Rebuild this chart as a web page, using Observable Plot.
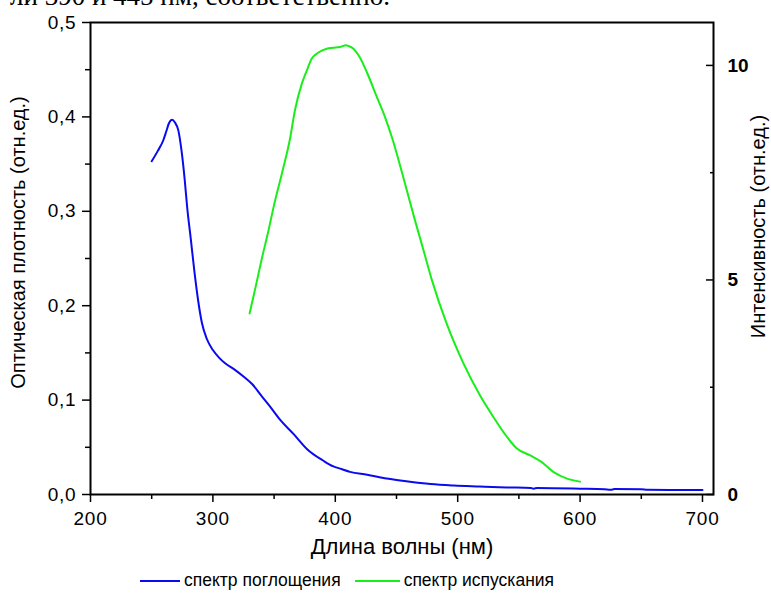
<!DOCTYPE html>
<html>
<head>
<meta charset="utf-8">
<script src="https://cdn.jsdelivr.net/npm/d3@7"></script>
<script src="https://cdn.jsdelivr.net/npm/@observablehq/plot@0.6"></script>
<style>
  html, body { margin: 0; padding: 0; background: #fff; }
  body { width: 771px; height: 595px; overflow: hidden; position: relative; font-family: "Liberation Sans", Arial, sans-serif; }
  #toptext { position: absolute; left: 10px; top: -17px; font-size: 27px; line-height: 27px; font-family: "Liberation Serif", "Times New Roman", serif; color: #000; white-space: nowrap; }
  #c1, #c2 { position: absolute; left: 0; top: 0; }
  #legend { position: absolute; left: 140px; top: 570px; display: flex; align-items: center; font-size: 17.5px; color: #000; }
  .sw { display: inline-block; height: 2px; margin-right: 4px; }
  .ticklab text { letter-spacing: 0.8px; }
</style>
</head>
<body>
<div id="toptext">ли 390 и 445 нм, соответственно.</div>
<div id="c1"></div>
<div id="c2"></div>
<div id="legend"></div>
<script>
// Absorption spectrum (left axis, optical density)
const absWl = [250, 255, 259.4, 262, 264, 266.7, 269, 271.7, 274.4, 277, 279, 282, 285, 288, 291, 295, 300, 305, 310, 318, 325, 332, 340, 348, 355, 366, 377, 390, 398, 405, 412, 426, 442, 458, 478, 497, 518, 540, 560, 562, 565, 600, 620, 625, 628, 650, 655, 700];
const absVal = [0.353, 0.364, 0.375, 0.385, 0.393, 0.397, 0.394, 0.386, 0.364, 0.333, 0.304, 0.27, 0.235, 0.205, 0.182, 0.165, 0.153, 0.145, 0.139, 0.132, 0.125, 0.117, 0.104, 0.091, 0.079, 0.064, 0.048, 0.036, 0.030, 0.027, 0.024, 0.021, 0.017, 0.014, 0.011, 0.0095, 0.0085, 0.0075, 0.0068, 0.0062, 0.007, 0.0062, 0.0055, 0.005, 0.0057, 0.0056, 0.005, 0.0048];
// Emission spectrum (right axis, intensity)
const emWl = [330, 335, 340, 345, 350, 357, 363, 367, 372.6, 376.7, 380.8, 386.2, 393, 398, 404, 408.8, 411, 414.8, 420, 425.8, 434, 440.7, 446.2, 455, 465, 472, 479, 491, 504.8, 518.4, 529.3, 540.3, 548.4, 559.3, 568.9, 578.4, 589.3, 600];
const emVal = [4.22, 4.85, 5.5, 6.1, 6.75, 7.55, 8.29, 8.95, 9.57, 9.88, 10.16, 10.30, 10.39, 10.41, 10.43, 10.47, 10.45, 10.39, 10.19, 9.84, 9.26, 8.79, 8.33, 7.45, 6.4, 5.7, 4.99, 3.98, 3.05, 2.3, 1.80, 1.34, 1.07, 0.91, 0.75, 0.52, 0.37, 0.30];

const xMajor = [200, 300, 400, 500, 600, 700];
const xMinor = [250, 350, 450, 550, 650];
const yLeftMajor = [0, 0.1, 0.2, 0.3, 0.4, 0.5];
const yLeftMinor = [0.05, 0.15, 0.25, 0.35, 0.45];
const yRightMajor = [0, 5, 10];
const yRightMinor = [2.5, 7.5];

const seriesNames = ["спектр поглощения", "спектр испускания"];
const seriesColors = ["#0a0aee", "#1aee1a"];
const xLabel = "Длина волны (нм)";
const yLeftLabel = "Оптическая плотность (отн.ед.)";
const yRightLabel = "Интенсивность (отн.ед.)";

const absData = absWl.map((w, i) => ({w, v: absVal[i]}));
const emData = emWl.map((w, i) => ({w, v: emVal[i]}));

const W = 771, H = 560;
const M = {marginLeft: 90, marginRight: 58, marginTop: 22, marginBottom: 66};
const font = "'Liberation Sans', Arial, sans-serif";
const xDomain = [200, 709];
const comma = d => d.toFixed(1).replace(".", ",");

const p1 = Plot.plot({
  width: W, height: H, ...M,
  style: {fontFamily: font, background: "transparent", overflow: "visible"},
  x: {domain: xDomain},
  y: {domain: [0, 0.5]},
  marks: [
    Plot.line(absData, {x: "w", y: "v", stroke: seriesColors[0], strokeWidth: 2, curve: "monotone-x"}),
    Plot.axisX({ticks: xMajor, tickSize: 8, tickPadding: 9, tickFormat: d => String(d), fontSize: 19, strokeWidth: 1.5, label: null, className: "ticklab"}),
    Plot.axisX({ticks: xMinor, tickSize: 5, tickFormat: () => "", strokeWidth: 1.5, label: null}),
    Plot.axisY({ticks: yLeftMajor, tickSize: 8, tickPadding: 6, tickFormat: comma, fontSize: 19, strokeWidth: 1.5, label: null, className: "ticklab"}),
    Plot.axisY({ticks: yLeftMinor, tickSize: 5, tickFormat: () => "", strokeWidth: 1.5, label: null}),
    Plot.frame({stroke: "#000", strokeWidth: 2}),
    Plot.text([xLabel], {frameAnchor: "bottom", textAnchor: "middle", dy: 59, fontSize: 22, fill: "#000"}),
    Plot.text([yLeftLabel], {frameAnchor: "left", textAnchor: "middle", lineAnchor: "middle", rotate: -90, dx: -72, dy: -16, fontSize: 20, fill: "#000"})
  ]
});
document.getElementById("c1").appendChild(p1);

const p2 = Plot.plot({
  width: W, height: H, ...M,
  style: {fontFamily: font, background: "transparent", overflow: "visible"},
  x: {domain: xDomain, axis: null},
  y: {domain: [0, 11], axis: null},
  marks: [
    Plot.line(emData, {x: "w", y: "v", stroke: seriesColors[1], strokeWidth: 2, curve: "monotone-x"}),
    Plot.axisY({anchor: "right", ticks: yRightMajor, tickSize: 0, tickPadding: 14, tickFormat: d => String(d), fontSize: 19, fontWeight: "bold", label: null}),
    Plot.axisY({anchor: "right", ticks: yRightMajor, tickSize: 8, dx: -8, tickFormat: () => "", strokeWidth: 1.5, label: null}),
    Plot.axisY({anchor: "right", ticks: yRightMinor, tickSize: 4, dx: -4, tickFormat: () => "", strokeWidth: 1.5, label: null}),
    Plot.text([yRightLabel], {frameAnchor: "right", textAnchor: "middle", lineAnchor: "middle", rotate: -90, dx: 45, dy: -32, fontSize: 20, fill: "#000"})
  ]
});
document.getElementById("c2").appendChild(p2);

const legend = document.getElementById("legend");
seriesNames.forEach((name, i) => {
  const item = document.createElement("span");
  item.style.display = "inline-flex";
  item.style.alignItems = "center";
  item.style.marginRight = i === 0 ? "14px" : "0";
  const sw = document.createElement("span");
  sw.className = "sw";
  sw.style.width = i === 0 ? "40px" : "45px";
  sw.style.background = seriesColors[i];
  item.appendChild(sw);
  item.appendChild(document.createTextNode(name));
  legend.appendChild(item);
});
</script>
</body>
</html>
